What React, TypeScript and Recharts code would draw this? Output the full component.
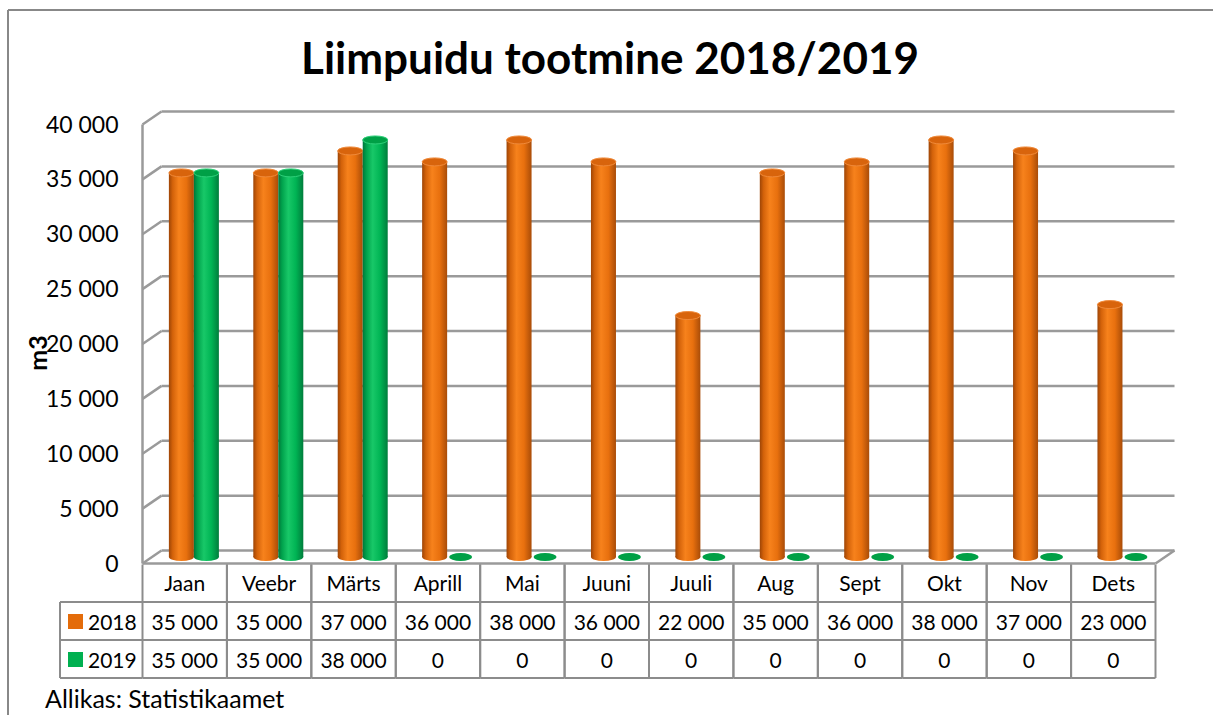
import React from 'react';
import { BarChart, Bar, XAxis, YAxis, CartesianGrid } from 'recharts';

const months = ['Jaan', 'Veebr', 'Märts', 'Aprill', 'Mai', 'Juuni', 'Juuli', 'Aug', 'Sept', 'Okt', 'Nov', 'Dets'];
const values2018 = [35000, 35000, 37000, 36000, 38000, 36000, 22000, 35000, 36000, 38000, 37000, 23000];
const values2019 = [35000, 35000, 38000, 0, 0, 0, 0, 0, 0, 0, 0, 0];
const seriesNames = ['2018', '2019'];
const yTicks = [0, 5000, 10000, 15000, 20000, 25000, 30000, 35000, 40000];

const data = months.map((month, i) => ({ month, y2018: values2018[i], y2019: values2019[i] }));

const W = 1213;
const H = 715;
const FONT = "Lato, 'Open Sans', sans-serif";
const GRID = '#9a9a9a';
const BORDER = '#8c8c8c';
const ORANGE = '#e46c0a';
const GREEN = '#00b050';

// plot area = middle of the 3D depth; back wall is +DX/-DY, front edge is -DX/+DY
const DX = 9.5;
const DY = 6.5;
const PLOT_LEFT = 152;
const PLOT_RIGHT = 1165;
const PLOT_TOP = 118;
const PLOT_BOTTOM = 557;
const X_AXIS_H = 120;
const COL_W = (PLOT_RIGHT - PLOT_LEFT) / months.length;

// table rows
const ROW0 = PLOT_BOTTOM + DY + 1;
const ROW1 = 602;
const ROW2 = 640;
const ROW3 = 678;
const LEGEND_LEFT = 60;

const fmt = (v: number) => String(v).replace(/\B(?=(\d{3})+(?!\d))/g, ' ');

const GridLine = (props: any) => {
  const { x1, x2, y1 } = props;
  const isFloor = y1 >= PLOT_BOTTOM - 1;
  return (
    <g>
      <line x1={x1 - DX} y1={y1 + DY} x2={x1 + DX} y2={y1 - DY} stroke={GRID} strokeWidth={2.5} />
      <line x1={x1 + DX} y1={y1 - DY} x2={x2 + DX} y2={y1 - DY} stroke={GRID} strokeWidth={2.5} />
      {isFloor && (
        <g>
          <line x1={x1 - DX} y1={y1 + DY} x2={x2 - DX} y2={y1 + DY} stroke={GRID} strokeWidth={2.5} />
          <line x1={x2 - DX} y1={y1 + DY} x2={x2 + DX} y2={y1 - DY} stroke={GRID} strokeWidth={2.5} />
          <line x1={x1 - DX} y1={PLOT_TOP + DY} x2={x1 - DX} y2={y1 + DY} stroke={GRID} strokeWidth={2.5} />
        </g>
      )}
    </g>
  );
};

const YTick = (props: any) => {
  const { y, payload } = props;
  return (
    <text x={PLOT_LEFT - DX - 24} y={y + DY} dy={8} textAnchor="end" fontSize={23} fill="#000" fontFamily={FONT}>
      {fmt(payload.value)}
    </text>
  );
};

const cellText = (x: number, y: number, s: string, key: string) => (
  <text key={key} x={x} y={y} textAnchor="middle" fontSize={21} fill="#000" fontFamily={FONT}>
    {s}
  </text>
);

const TableColumn = (props: any) => {
  const { x, payload } = props;
  const i = payload.index;
  const cx = x - DX;
  const left = cx - COL_W / 2;
  const right = cx + COL_W / 2;
  const ln = (a: number, b: number, c: number, d: number, k: string) => (
    <line key={k} x1={a} y1={b} x2={c} y2={d} stroke={BORDER} strokeWidth={2} />
  );
  return (
    <g>
      {ln(left, ROW0, left, ROW3, 'l')}
      {ln(right, ROW0, right, ROW3, 'r')}
      {ln(left, ROW1, right, ROW1, 'h1')}
      {ln(left, ROW2, right, ROW2, 'h2')}
      {ln(left, ROW3, right, ROW3, 'h3')}
      {cellText(cx, ROW0 + 26, payload.value, 'c')}
      {cellText(cx, ROW1 + 28, fmt(values2018[i]), 'a')}
      {cellText(cx, ROW2 + 28, fmt(values2019[i]), 'b')}
      {i === 0 && (
        <g>
          {ln(LEGEND_LEFT, ROW1, left, ROW1, 'lh1')}
          {ln(LEGEND_LEFT, ROW2, left, ROW2, 'lh2')}
          {ln(LEGEND_LEFT, ROW3, left, ROW3, 'lh3')}
          {ln(LEGEND_LEFT, ROW1, LEGEND_LEFT, ROW3, 'lv')}
          <rect x={68} y={ROW1 + 12} width={15} height={15} fill={ORANGE} />
          <rect x={68} y={ROW2 + 12} width={15} height={15} fill={GREEN} />
          <text x={88} y={ROW1 + 28} fontSize={21} fontFamily={FONT} fill="#000">{seriesNames[0]}</text>
          <text x={88} y={ROW2 + 28} fontSize={21} fontFamily={FONT} fill="#000">{seriesNames[1]}</text>
        </g>
      )}
    </g>
  );
};

const makeCylinder = (gradId: string, topFill: string, rim: string, flat: string) => (props: any) => {
  const { x, y, width, height } = props;
  const cx = x + width / 2;
  const rx = width / 2;
  const ry = 4;
  if (!height || height <= 0) {
    return <ellipse cx={cx + 1} cy={y} rx={rx - 1} ry={ry} fill={flat} />;
  }
  return (
    <g>
      <rect x={x} y={y} width={width} height={height} fill={`url(#${gradId})`} />
      <ellipse cx={cx} cy={y + height} rx={rx} ry={ry} fill={`url(#${gradId})`} />
      <ellipse cx={cx} cy={y} rx={rx} ry={ry} fill={topFill} stroke={rim} strokeWidth={1} />
    </g>
  );
};

const OrangeCylinder = makeCylinder('gradOrange', '#d8640c', '#f08a3a', '#d8640c');
const GreenCylinder = makeCylinder('gradGreen', '#00a046', '#2fd07a', '#00a046');

export default function App() {
  return (
    <div style={{ position: 'absolute', left: 0, top: 0, width: W, height: H, overflow: 'hidden', background: '#fff' }}>
      <svg width={0} height={0} style={{ position: 'absolute' }}>
        <defs>
          <linearGradient id="gradOrange" x1="0" y1="0" x2="1" y2="0">
            <stop offset="0%" stopColor="#9e4506" />
            <stop offset="15%" stopColor="#d3620a" />
            <stop offset="40%" stopColor="#f7821c" />
            <stop offset="70%" stopColor="#e8700e" />
            <stop offset="100%" stopColor="#a94c08" />
          </linearGradient>
          <linearGradient id="gradGreen" x1="0" y1="0" x2="1" y2="0">
            <stop offset="0%" stopColor="#00773a" />
            <stop offset="15%" stopColor="#00a24c" />
            <stop offset="40%" stopColor="#18c868" />
            <stop offset="70%" stopColor="#00b454" />
            <stop offset="100%" stopColor="#007d3c" />
          </linearGradient>
        </defs>
      </svg>
      <div style={{ position: 'absolute', left: 0, top: 0 }}>
        <BarChart
          width={W}
          height={H}
          data={data}
          margin={{ top: PLOT_TOP, right: W - PLOT_RIGHT, bottom: H - PLOT_BOTTOM - X_AXIS_H, left: PLOT_LEFT - 60 }}
          barCategoryGap="20%"
          barGap={0}
        >
          <CartesianGrid horizontal={GridLine} vertical={false} />
          <XAxis
            dataKey="month"
            height={X_AXIS_H}
            axisLine={false}
            tickLine={false}
            interval={0}
            tick={TableColumn}
          />
          <YAxis
            type="number"
            domain={[0, 40000]}
            ticks={yTicks}
            interval={0}
            width={60}
            axisLine={false}
            tickLine={false}
            tick={YTick}
          />
          <Bar dataKey="y2018" name={seriesNames[0]} fill={ORANGE} shape={OrangeCylinder} isAnimationActive={false} />
          <Bar dataKey="y2019" name={seriesNames[1]} fill={GREEN} shape={GreenCylinder} isAnimationActive={false} />
        </BarChart>
      </div>
      <svg width={W} height={H} style={{ position: 'absolute', left: 0, top: 0, pointerEvents: 'none' }}>
        <line x1={8} y1={10} x2={W} y2={10} stroke="#888" strokeWidth={2} />
        <line x1={8} y1={10} x2={8} y2={H} stroke="#888" strokeWidth={2} />
        <text x={610} y={74} textAnchor="middle" fontSize={44} fontWeight={700} fontFamily={FONT} fill="#000">
          Liimpuidu tootmine 2018/2019
        </text>
        <text x={37} y={353} transform="rotate(-90 37 353)" textAnchor="middle" dominantBaseline="central" fontSize={25} fontWeight={700} fontFamily={FONT} fill="#000">
          m3
        </text>
        <text x={45} y={708} fontSize={25} fontFamily={FONT} fill="#000">
          Allikas: Statistikaamet
        </text>
      </svg>
    </div>
  );
}
